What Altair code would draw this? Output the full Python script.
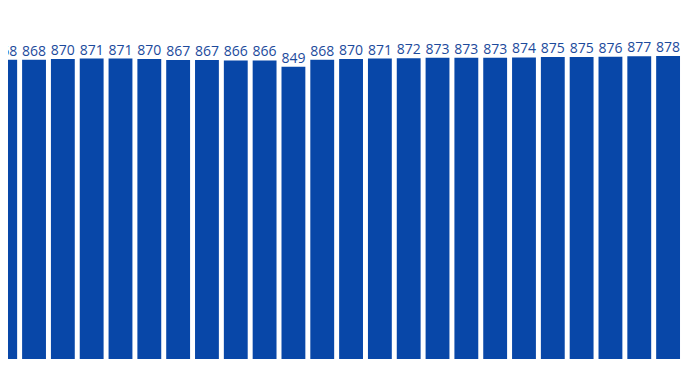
import altair as alt
import pandas as pd

values = [868, 868, 870, 871, 871, 870, 867, 867, 866, 866, 849, 868,
          870, 871, 872, 873, 873, 873, 874, 875, 875, 876, 877, 878]
index = list(range(len(values)))

df = pd.DataFrame({"i": index, "v": values})

xs = alt.Scale(range=[-17.2, 674.5], paddingInner=0.1724, paddingOuter=0.0862)
ys = alt.Scale(domain=[56.9, 1008], nice=False, zero=False)

base = alt.Chart(df)
bars = base.mark_bar(color="#0847A8", clip=True).encode(
    x=alt.X("i:O", scale=xs, axis=None),
    y=alt.Y("v:Q", scale=ys, axis=None),
    y2=alt.datum(0),
)
labels = base.mark_text(
    color="#1C4A9C", font="Open Sans", fontSize=14, baseline="alphabetic",
    align="center", dy=-4,
).encode(
    x=alt.X("i:O", scale=xs, axis=None),
    y=alt.Y("v:Q", scale=ys, axis=None),
    text="v:Q",
)

chart = (bars + labels).properties(
    width=673, height=351, padding=0, background="white",
    autosize=alt.AutoSizeParams(type="none"),
).configure(view=alt.ViewConfig(stroke=None))

chart.save("out.html", embed_options={"renderer": "svg", "actions": False})
